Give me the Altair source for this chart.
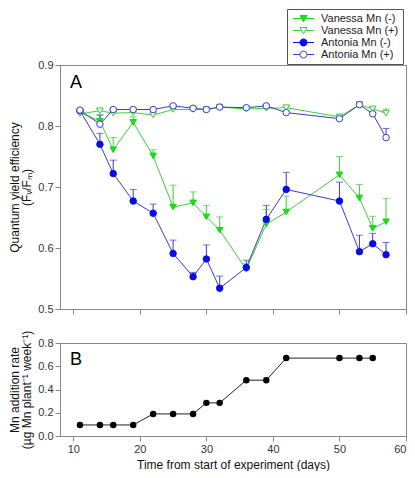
import altair as alt
import pandas as pd

# ---------------- data ----------------
series_names = ["Vanessa Mn (-)", "Vanessa Mn (+)", "Antonia Mn (-)", "Antonia Mn (+)"]
days_a = [11, 14, 16, 19, 22, 25, 28, 30, 32, 36, 39, 42, 50, 53, 55, 57]

van_minus = [0.822, 0.808, 0.761, 0.806, 0.751, 0.667, 0.674, 0.651, 0.629, 0.565, 0.639, 0.659, 0.720, 0.682, 0.632, 0.643]
van_minus_up = [0.824, 0.818, 0.781, 0.815, 0.761, 0.703, 0.692, 0.670, 0.651, 0.575, 0.663, 0.685, 0.750, 0.704, 0.652, 0.681]
van_plus = [0.820, 0.825, 0.821, 0.822, 0.818, 0.827, 0.827, 0.827, 0.831, 0.828, 0.829, 0.830, 0.815, 0.835, 0.828, 0.821]
van_plus_up = [0.822, 0.827, 0.823, 0.824, 0.820, 0.829, 0.829, 0.829, 0.833, 0.830, 0.831, 0.832, 0.818, 0.837, 0.830, 0.828]
ant_minus = [0.825, 0.770, 0.722, 0.677, 0.657, 0.591, 0.553, 0.582, 0.534, 0.568, 0.647, 0.696, 0.677, 0.594, 0.607, 0.589]
ant_minus_up = [0.827, 0.788, 0.744, 0.696, 0.672, 0.613, 0.560, 0.605, 0.554, 0.580, 0.670, 0.724, 0.708, 0.621, 0.624, 0.609]
ant_plus = [0.826, 0.803, 0.827, 0.827, 0.827, 0.833, 0.829, 0.827, 0.831, 0.830, 0.833, 0.822, 0.812, 0.835, 0.820, 0.781]
ant_plus_up = [0.828, 0.818, 0.829, 0.829, 0.829, 0.835, 0.831, 0.829, 0.833, 0.832, 0.835, 0.824, 0.819, 0.837, 0.822, 0.796]

days_b = [11, 14, 16, 19, 22, 25, 28, 30, 32, 36, 39, 42, 50, 53, 55]
mn_rate = [0.095, 0.095, 0.095, 0.095, 0.19, 0.19, 0.19, 0.285, 0.285, 0.48, 0.48, 0.67, 0.67, 0.67, 0.67]

x_ticks = [10, 20, 30, 40, 50, 60]
ya_ticks = [0.5, 0.6, 0.7, 0.8, 0.9]
panel_labels = ["A", "B"]

# ---------------- styling ----------------
line_colors = ["#3ccf3c", "#3ccf3c", "#3a3ac4", "#3a3ac4"]
marker_stroke = ["#18d418", "#3ccf3c", "#0a0ae6", "#3a3ac4"]
marker_fill = ["#18e018", "white", "#0a0aee", "white"]
marker_shape = ["triangle-down", "triangle-down", "circle", "circle"]
legend_paths = [
    "M-3,0H-0.55M0.55,0H3M-1,-0.85L1,-0.85L0,0.95Z",
    "M-3,0H-0.55M0.55,0H3M-1,-0.85L1,-0.85L0,0.95Z",
    "M-3,0H-1M1,0H3M1,0A1,1,0,1,1,-1,0A1,1,0,1,1,1,0Z",
    "M-3,0H-1M1,0H3M1,0A1,1,0,1,1,-1,0A1,1,0,1,1,1,0Z",
]
FONT = "Liberation Sans"
W = 346
HA = 244
HB = 93

vals = [van_minus, van_plus, ant_minus, ant_plus]
ups = [van_minus_up, van_plus_up, ant_minus_up, ant_plus_up]
rows = []
for s, v, u in zip(series_names, vals, ups):
    for d, vv, uu in zip(days_a, v, u):
        rows.append({"series": s, "day": d, "value": vv, "upper": uu})
df_a = pd.DataFrame(rows)
df_b = pd.DataFrame({"day": days_b, "rate": mn_rate})

x_scale = alt.Scale(domain=[8, 60], nice=False, zero=False)
ya_scale = alt.Scale(domain=[0.5, 0.9], nice=False, zero=False)
yb_scale = alt.Scale(domain=[0.0, 0.8], nice=False, zero=False)

color_scale = alt.Scale(domain=series_names, range=line_colors)

xa = alt.X("day:Q", scale=x_scale,
           axis=alt.Axis(values=x_ticks, labels=False, title=None, grid=False))
ya = alt.Y("value:Q", scale=ya_scale,
           axis=alt.Axis(values=ya_ticks, format=".1f", grid=False, labelOverlap=False,
                         title=["Quantum yield efficiency", "(F\u1d65/F\u2098)"],
                         titlePadding=4, titleLineHeight=12))

base = alt.Chart(df_a)

lines = base.mark_line(strokeWidth=1).encode(
    x=xa, y=ya,
    color=alt.Color("series:N", scale=color_scale, legend=None),
    detail="series:N", order="day:Q",
)
err = base.mark_rule(strokeWidth=1).encode(
    x="day:Q", y="value:Q", y2="upper:Q",
    color=alt.Color("series:N", scale=color_scale, legend=None),
)
caps = base.mark_tick(orient="horizontal", size=7, thickness=1).encode(
    x="day:Q", y="upper:Q",
    color=alt.Color("series:N", scale=color_scale, legend=None),
)

point_layers = []
for i, s in enumerate(series_names):
    point_layers.append(
        base.transform_filter(alt.datum.series == s).mark_point(
            shape=marker_shape[i], size=42, strokeWidth=1,
            fill=marker_fill[i], stroke=marker_stroke[i], fillOpacity=1, opacity=1,
        ).encode(x="day:Q", y="value:Q")
    )

leg = alt.Legend(title=None, orient="none", legendX=W - 119, legendY=-56,
                 symbolOpacity=1, symbolSize=49, symbolStrokeWidth=1,
                 symbolOffset=7, labelOffset=12, rowPadding=0,
                 padding=4, strokeColor="#555", fillColor="white",
                 labelFont=FONT, labelFontSize=11, labelColor="#222")
legend_layer = base.transform_filter(alt.datum.day == 11).mark_point(opacity=0).encode(
    x="day:Q", y="value:Q",
    shape=alt.Shape("series:N", scale=alt.Scale(domain=series_names, range=legend_paths), legend=leg),
    stroke=alt.Stroke("series:N", scale=alt.Scale(domain=series_names, range=marker_stroke), legend=leg),
    fill=alt.Fill("series:N", scale=alt.Scale(domain=series_names, range=marker_fill), legend=leg),
)

lab_df_a = pd.DataFrame({"t": [panel_labels[0]]})
lab_df_b = pd.DataFrame({"t": [panel_labels[1]]})
label_a = alt.Chart(lab_df_a).mark_text(fontSize=18, font=FONT, align="left",
                                        baseline="alphabetic", color="black").encode(
    text="t:N", x=alt.value(10), y=alt.value(23))

panel_a = alt.layer(lines, err, caps, *point_layers, legend_layer, label_a).properties(
    width=W, height=HA)

xb = alt.X("day:Q", scale=x_scale,
           axis=alt.Axis(values=x_ticks, format="d", grid=False,
                         title="Time from start of experiment (days)", titlePadding=5))
yb = alt.Y("rate:Q", scale=yb_scale,
           axis=alt.Axis(tickCount=5, format=".1f", grid=False, labelOverlap=False,
                         labelColor="#333", labelOpacity=1, labelFontSize=11,
                         title=["Mn addition rate", "(\u00b5g Mn plant\u207b\u00b9 week\u207b\u00b9)"],
                         titlePadding=4, titleLineHeight=12))
base_b = alt.Chart(df_b)
line_b = base_b.mark_line(color="#222", strokeWidth=1).encode(x=xb, y=yb)
pts_b = base_b.mark_point(shape="circle", size=42, filled=True, color="black", opacity=1).encode(
    x="day:Q", y="rate:Q")
label_b = alt.Chart(lab_df_b).mark_text(fontSize=18, font=FONT, align="left",
                                        baseline="alphabetic", color="black").encode(
    text="t:N", x=alt.value(10), y=alt.value(22))
panel_b = alt.layer(line_b, pts_b, label_b).properties(width=W, height=HB)

chart = alt.vconcat(panel_a, panel_b, spacing=14).resolve_scale(
    x="shared"
).resolve_legend(shape="independent", fill="independent", stroke="independent").configure(
    padding=0, background="white"
).configure_view(
    stroke="#888", strokeWidth=1
).configure_axis(
    domainColor="#888", tickColor="#888", tickSize=5, labelFont=FONT, labelFontSize=11,
    labelColor="#333", titleFont=FONT, titleFontSize=12, titleFontWeight="normal",
    titleColor="#111", labelPadding=2
)

chart.save("out.html", embed_options={"renderer": "svg", "actions": False})
